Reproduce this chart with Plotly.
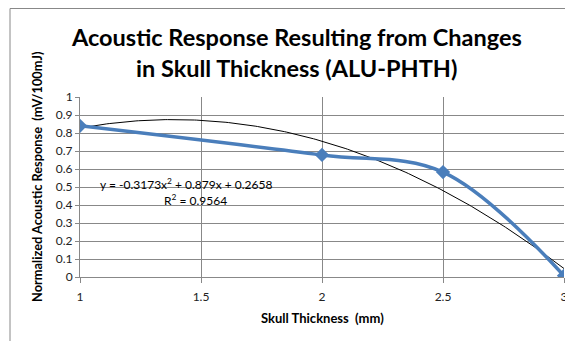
import numpy as np
import plotly.graph_objects as go

thickness = [1, 2, 2.5, 3]
response = [0.84, 0.678, 0.583, 0.007]
trend_coef = [-0.3173, 0.879, 0.2658]
r_squared = 0.9564
x_ticks = [1, 1.5, 2, 2.5, 3]
y_ticks = [0, 0.1, 0.2, 0.3, 0.4, 0.5, 0.6, 0.7, 0.8, 0.9, 1]

xt = np.linspace(1, 3, 200)
yt = np.polyval(trend_coef, xt)

FONT = "Lato"
OFF = 8  # browser body margin
W, H = 573 - OFF, 341 - OFF
# plot area in window pixels: x 80..564, y 97..277
L, R, T, B = 80 - OFF, 573 - 564, 97 - OFF, 341 - 277
PW, PH = W - L - R, H - T - B


def px(xp):
    return (xp - OFF - L) / PW


def py(yp):
    return (H - B - (yp - OFF)) / PH


fig = go.Figure()
fig.add_trace(go.Scatter(x=xt, y=yt, mode="lines",
                         line=dict(color="#000000", width=1), hoverinfo="skip"))
fig.add_trace(go.Scatter(x=thickness, y=response, mode="lines+markers",
                         line=dict(color="#4A7EBB", width=3.5, shape="spline", smoothing=1),
                         marker=dict(symbol="diamond", size=11, color="#4A7EBB")))

fig.update_layout(
    width=W, height=H,
    margin=dict(l=L, r=R, t=T, b=B, autoexpand=False),
    paper_bgcolor="white", plot_bgcolor="white",
    showlegend=False,
    font=dict(family=FONT, color="#000000"),
    xaxis=dict(range=[1, 3], tickvals=x_ticks, ticktext=[f"{v:g}" for v in x_ticks],
               showgrid=True, gridcolor="#888888", gridwidth=1,
               showline=True, linecolor="#888888", zeroline=False, automargin=False,
               ticks="outside", ticklen=5, tickcolor="#888888", ticklabelstandoff=4,
               tickfont=dict(size=12, color="#222222")),
    yaxis=dict(range=[0, 1], tickvals=y_ticks, ticktext=[f"{v:g}" for v in y_ticks],
               showgrid=True, gridcolor="#888888", gridwidth=1,
               showline=True, linecolor="#888888", zeroline=False, automargin=False,
               ticks="outside", ticklen=4, tickcolor="#888888",
               tickfont=dict(size=12, color="#222222")),
)

# Title
fig.add_annotation(xref="paper", yref="paper", x=px(296), y=py(37),
                   text="<b>Acoustic Response Resulting from Changes</b>",
                   showarrow=False, xanchor="center", yanchor="middle",
                   font=dict(family=FONT, size=23.5, color="#000000"))
fig.add_annotation(xref="paper", yref="paper", x=px(296), y=py(68),
                   text="<b>in Skull Thickness (ALU-PHTH)</b>",
                   showarrow=False, xanchor="center", yanchor="middle",
                   font=dict(family=FONT, size=23.5, color="#000000"))
# Axis titles
fig.add_annotation(xref="paper", yref="paper", x=px(322), y=py(318),
                   text="<b>Skull Thickness  (mm)</b>",
                   showarrow=False, xanchor="center", yanchor="middle",
                   font=dict(family=FONT, size=13, color="#000000"))
fig.add_annotation(xref="paper", yref="paper", x=px(37), y=py(177),
                   text="<b>Normalized Acoustic Response  (mV/100mJ)</b>", textangle=-90,
                   showarrow=False, xanchor="center", yanchor="middle",
                   font=dict(family=FONT, size=12.8, color="#000000"))

eq = f"y = {trend_coef[0]}x<sup>2</sup> + {trend_coef[1]}x + {trend_coef[2]}"
fig.add_annotation(xref="paper", yref="paper", x=px(186), y=py(184),
                   text=eq, showarrow=False, font=dict(family=FONT, size=12, color="#000000"),
                   xanchor="center", yanchor="middle")
fig.add_annotation(xref="paper", yref="paper", x=px(195), y=py(200),
                   text=f"R<sup>2</sup> = {r_squared}", showarrow=False,
                   font=dict(family=FONT, size=12, color="#000000"),
                   xanchor="center", yanchor="middle")

fig.add_shape(type="rect", xref="paper", yref="paper",
              x0=px(10), x1=px(600), y0=py(380), y1=py(8.5),
              line=dict(color="#888888", width=1), fillcolor="rgba(0,0,0,0)", layer="below")

fig.write_html("out.html")
